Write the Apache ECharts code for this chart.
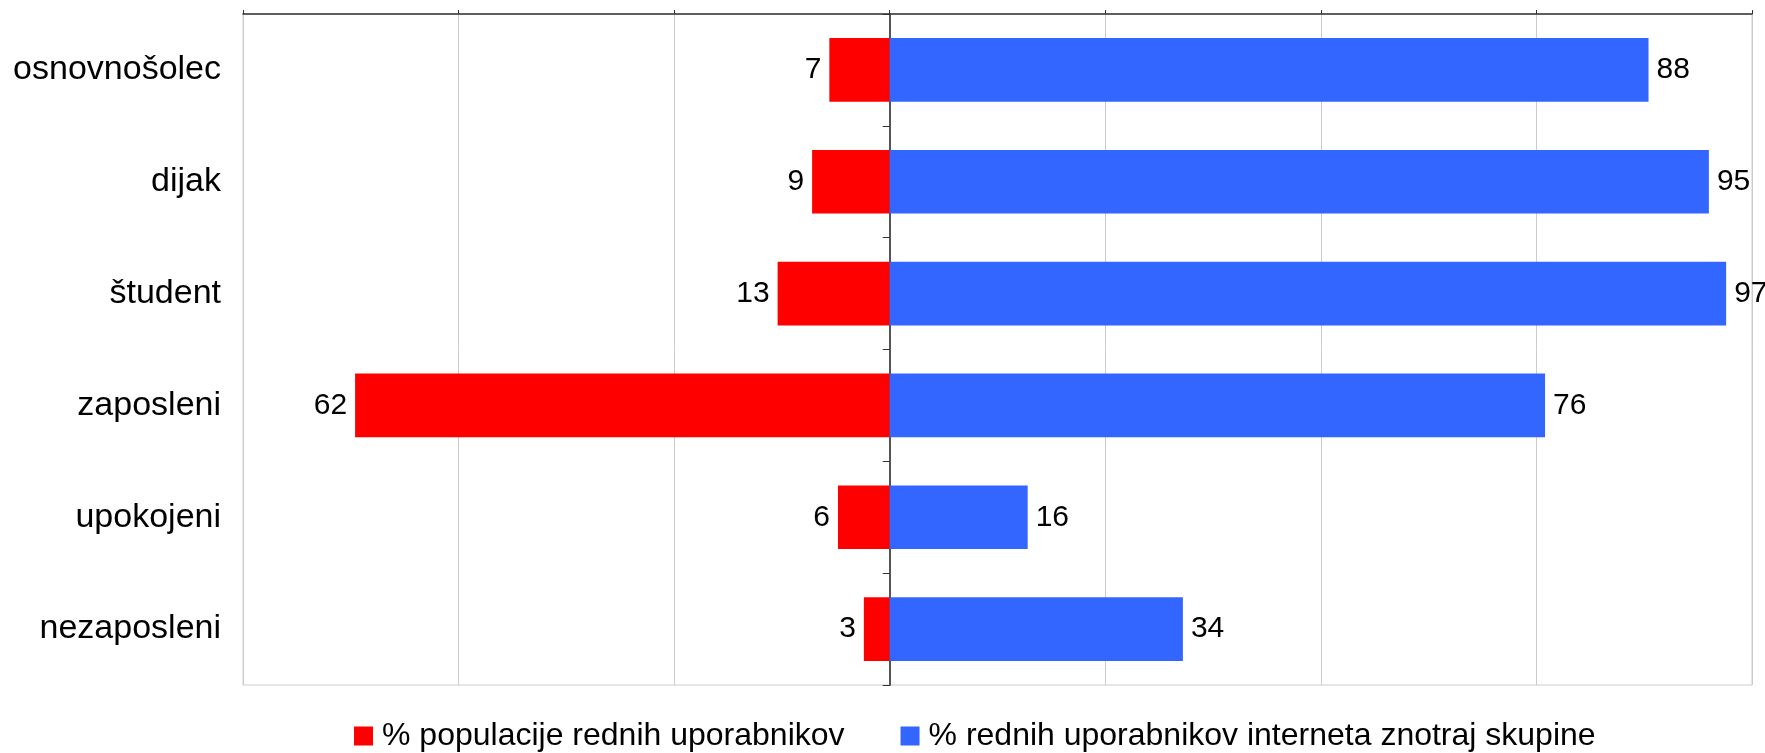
<!DOCTYPE html>
<html>
<head>
<meta charset="utf-8">
<script src="https://cdn.jsdelivr.net/npm/echarts@6/dist/echarts.min.js"></script>
<style>
  html, body { margin: 0; padding: 0; background: #fff; }
  #chart { width: 1765px; height: 753px; }
</style>
</head>
<body>
<div id="chart"></div>
<script>
const categories = ['osnovnošolec', 'dijak', 'študent', 'zaposleni', 'upokojeni', 'nezaposleni'];
const populationShare = [7, 9, 13, 62, 6, 3];
const groupShare = [88, 95, 97, 76, 16, 34];
const seriesNames = ['% populacije rednih uporabnikov', '% rednih uporabnikov interneta znotraj skupine'];

const font = 'Liberation Sans, Arial, sans-serif';

let myChart = echarts.init(document.getElementById('chart'));
myChart.setOption({
  animation: false,
  textStyle: { fontFamily: font },
  grid: {
    left: 243, right: 13, top: 14, bottom: 68,
    show: true, borderColor: '#cccccc', borderWidth: 1
  },
  legend: {
    left: 349,
    top: 715,
    itemWidth: 19, itemHeight: 19, itemGap: 56,
    icon: 'rect',
    textStyle: { fontSize: 32, color: '#000', fontFamily: font, padding: [0, 0, 0, 4] },
    data: seriesNames
  },
  xAxis: {
    type: 'value',
    position: 'top',
    min: -75, max: 100, interval: 25,
    axisLabel: { show: false },
    axisLine: { show: true, lineStyle: { color: '#333', width: 1.5 } },
    axisTick: { show: true, length: 4, lineStyle: { color: '#333' } },
    splitLine: { show: true, lineStyle: { color: '#cccccc', width: 1 } }
  },
  yAxis: [
    {
      type: 'category',
      inverse: true,
      data: categories,
      position: 'left',
      axisLine: { show: false, onZero: false },
      axisTick: { show: false },
      axisLabel: { fontSize: 34, color: '#000', margin: 22, fontFamily: font }
    },
    {
      type: 'category',
      inverse: true,
      data: categories,
      position: 'left',
      axisLine: { show: true, onZero: true, lineStyle: { color: '#555', width: 2 } },
      axisTick: { show: true, length: 7, lineStyle: { color: '#333' } },
      axisLabel: { show: false }
    }
  ],
  series: [
    {
      name: seriesNames[0],
      type: 'bar',
      yAxisIndex: 0,
      barWidth: '57%',
      barGap: '-100%',
      z: 1,
      itemStyle: { color: '#ff0000' },
      label: {
        show: true, position: 'left', distance: 8,
        fontSize: 30, color: '#000', fontFamily: font,
        formatter: p => Math.abs(p.value)
      },
      data: populationShare.map(v => -v)
    },
    {
      name: seriesNames[1],
      type: 'bar',
      yAxisIndex: 0,
      barWidth: '57%',
      barGap: '-100%',
      z: 1,
      itemStyle: { color: '#3366ff' },
      label: {
        show: true, position: 'right', distance: 8,
        fontSize: 30, color: '#000', fontFamily: font
      },
      data: groupShare
    }
  ]
});
</script>
</body>
</html>
